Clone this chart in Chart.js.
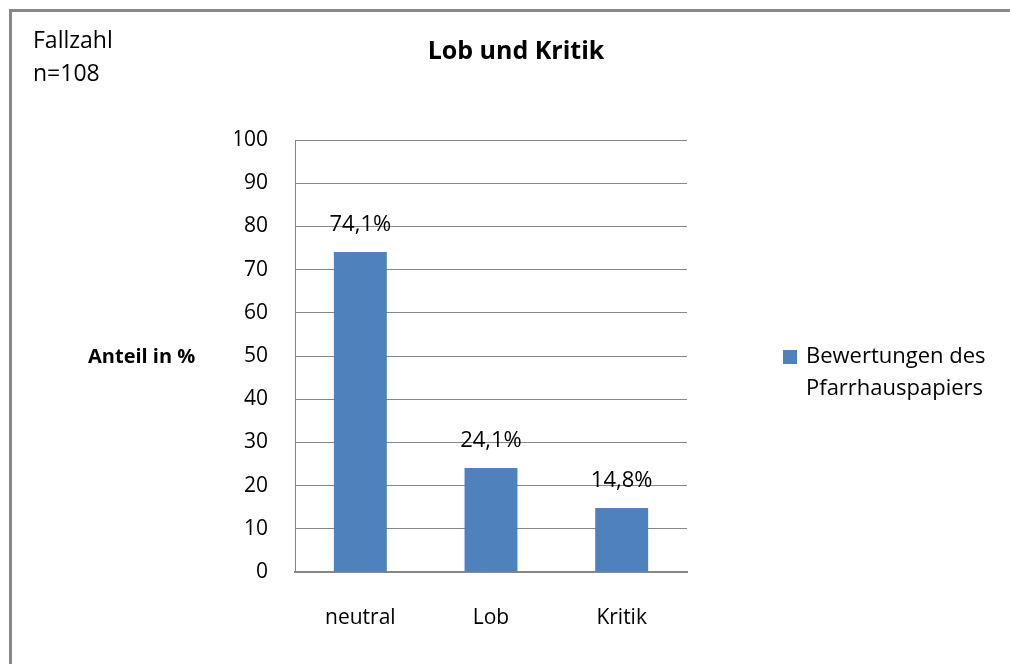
<!DOCTYPE html>
<html>
<head>
<meta charset="utf-8">
<script src="https://cdn.jsdelivr.net/npm/chart.js@4.4.0/dist/chart.umd.min.js"></script>
<style>
	html, body { margin: 0; padding: 0; background: #fff; }
	#wrap { width: 1010px; height: 664px; position: relative; }
</style>
</head>
<body>
<div id="wrap"><canvas id="bar-chart" width="1010" height="664"></canvas></div>
<script>
var categories = ['neutral', 'Lob', 'Kritik'];
var values = [74.1, 24.1, 14.8];
var seriesName = ['Bewertungen des', 'Pfarrhauspapiers'];
var chartTitle = 'Lob und Kritik';
var caseText = ['Fallzahl', 'n=108'];
var yTitle = 'Anteil in %';

var FONT = '"Open Sans", Lato, sans-serif';
var BAR = '#4F81BD';
var GRID = '#868686';

function fmt(v){
	return v.toFixed(1).replace('.', ',') + '%';
}

var extras = {
	id: 'extras',
	beforeDraw: function(chart){
		var ctx = chart.ctx;
		ctx.save();
		ctx.fillStyle = '#fff';
		ctx.fillRect(0, 0, chart.width, chart.height);
		ctx.restore();
	},
	afterDraw: function(chart){
		var ctx = chart.ctx;
		ctx.save();
		// frame (only top and left are inside the picture)
		ctx.fillStyle = '#888';
		ctx.fillRect(9, 9, chart.width - 9, 3);
		ctx.fillRect(9, 9, 3, chart.height - 9);

		ctx.fillStyle = '#000';
		ctx.textBaseline = 'middle';

		ctx.font = 'bold 25px ' + FONT;
		ctx.textAlign = 'center';
		ctx.fillText(chartTitle, 516, 52);

		ctx.font = '23px ' + FONT;
		ctx.textAlign = 'left';
		ctx.fillText(caseText[0], 33, 41);
		ctx.fillText(caseText[1], 33, 74);

		ctx.font = 'bold 20px ' + FONT;
		ctx.fillText(yTitle, 88, 357);

		// legend
		ctx.fillStyle = BAR;
		ctx.fillRect(783, 350, 14, 14);
		ctx.fillStyle = '#000';
		ctx.font = '22px ' + FONT;
		ctx.fillText(seriesName[0], 806, 357);
		ctx.fillText(seriesName[1], 806, 389);

		// value labels
		var meta = chart.getDatasetMeta(0);
		ctx.textAlign = 'center';
		meta.data.forEach(function(bar, i){
			ctx.fillText(fmt(values[i]), bar.x, bar.y - 27);
		});
		ctx.restore();
	}
};

new Chart(document.getElementById('bar-chart'), {
	type: 'bar',
	data: {
		labels: categories,
		datasets: [{
			label: seriesName.join(' '),
			data: values,
			backgroundColor: BAR,
			barPercentage: 0.405,
			categoryPercentage: 1
		}]
	},
	options: {
		responsive: false,
		animation: false,
		layout: { padding: { left: 235, right: 323, top: 140, bottom: 0 } },
		plugins: {
			legend: { display: false },
			title: { display: false },
			tooltip: { enabled: false }
		},
		scales: {
			x: {
				grid: { display: false },
				border: { color: GRID, width: 2 },
				ticks: { color: '#000', padding: 25, font: { family: FONT, size: 21 } },
				afterFit: function(s){ s.height = 92; }
			},
			y: {
				min: 0,
				max: 100,
				ticks: { stepSize: 10, color: '#000', padding: 27, font: { family: FONT, size: 21 } },
				grid: { color: GRID, lineWidth: 1, drawTicks: false },
				border: { color: GRID, width: 1 },
				afterFit: function(s){ s.width = 60; }
			}
		}
	},
	plugins: [extras]
});
</script>
</body>
</html>
